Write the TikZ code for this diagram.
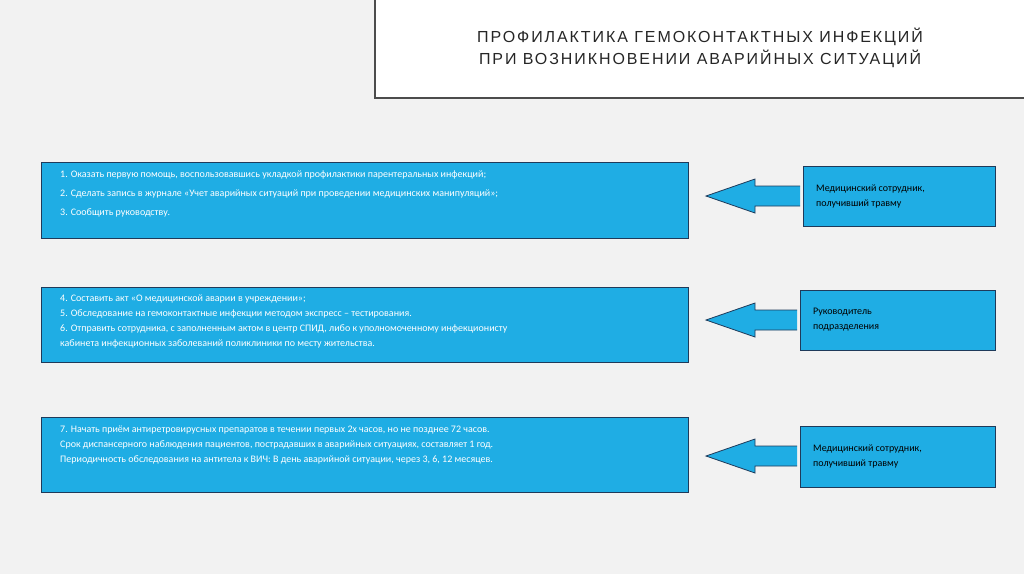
\documentclass[tikz,border=0pt]{standalone}
\usepackage{fontspec}
\setmainfont{Carlito}
\newfontfamily\titlefont[LetterSpace=12]{Liberation Sans}
\definecolor{bg}{HTML}{F2F2F2}
\definecolor{blu}{HTML}{1FADE4}
\definecolor{edge}{HTML}{1F3A5A}
\begin{document}
\begin{tikzpicture}[x=1pt,y=-1pt,
  box/.style={draw=edge,line width=0.8pt,fill=blu},
  txt/.style={anchor=north west,text=white,font=\fontsize{10}{15}\selectfont,align=left,inner sep=0pt},
  rtxt/.style={anchor=west,text=black,font=\fontsize{10}{15}\selectfont,align=left,inner sep=0pt},
  barrow/.style={draw=edge,line width=0.8pt,fill=blu}]
\fill[bg] (0,0) rectangle (1024,574);
\useasboundingbox (0,0) rectangle (1024,574);
% title
\fill[white] (374,-5) rectangle (1030,98);
\draw[line width=2.5pt,draw=black!70] (375,-5) -- (375,98) -- (1030,98);
\node[font=\titlefont\fontsize{16}{22}\selectfont,align=center,text=black!85] (title) at (700,48) {ПРОФИЛАКТИКА ГЕМОКОНТАКТНЫХ ИНФЕКЦИЙ\\ПРИ ВОЗНИКНОВЕНИИ АВАРИЙНЫХ СИТУАЦИЙ};
% left boxes
\draw[box] (41,162) rectangle (688,238);
\draw[box] (41,287) rectangle (688,362);
\draw[box] (41,417) rectangle (688,492);
\node[txt,font=\fontsize{10}{19}\selectfont] (t1) at (60,171) {1. Оказать первую помощь, воспользовавшись укладкой профилактики парентеральных инфекций;\\2. Сделать запись в журнале «Учет аварийных ситуаций при проведении медицинских манипуляций»;\\3. Сообщить руководству.};
\node[txt] (t2) at (60,295) {4. Составить акт «О медицинской аварии в учреждении»;\\5. Обследование на гемоконтактные инфекции методом экспресс – тестирования.\\6. Отправить сотрудника, с заполненным актом в центр СПИД, либо к уполномоченному инфекционисту\\кабинета инфекционных заболеваний поликлиники по месту жительства.};
\node[txt] (t3) at (60,426) {7. Начать приём антиретровирусных препаратов в течении первых 2х часов, но не позднее 72 часов.\\Срок диспансерного наблюдения пациентов, пострадавших в аварийных ситуациях, составляет 1 год.\\Периодичность обследования на антитела к ВИЧ: В день аварийной ситуации, через 3, 6, 12 месяцев.};
% right boxes
\draw[box] (803,166) rectangle (995,226);
\draw[box] (800,290) rectangle (995,350);
\draw[box] (800,426) rectangle (995,487);
\node[rtxt] (r1) at (816,196) {Медицинский сотрудник,\\получивший травму};
\node[rtxt] (r2) at (813,320) {Руководитель\\подразделения};
\node[rtxt] (r3) at (813,456) {Медицинский сотрудник,\\получивший травму};
% block arrows
\foreach \yy/\xe in {196/800,320/797,456/797}{
  \draw[barrow] (\xe,\yy-10) -- (755,\yy-10) -- (755,\yy-17) -- (706,\yy) -- (755,\yy+17) -- (755,\yy+10) -- (\xe,\yy+10);
}
\end{tikzpicture}
\end{document}
